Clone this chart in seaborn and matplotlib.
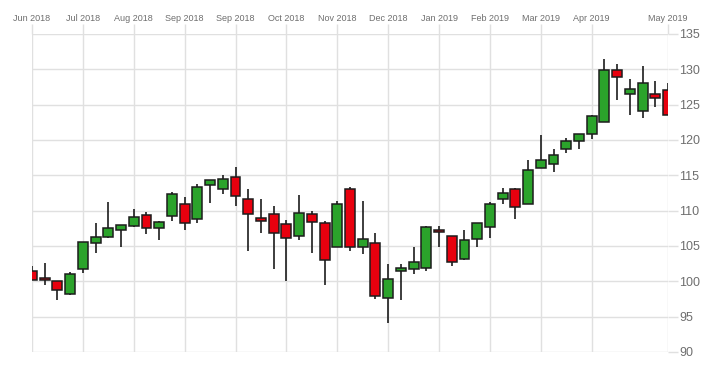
"""
Weekly candlestick chart, Jun 2018 - May 2019.
"""

import matplotlib
matplotlib.use("Agg")
import matplotlib.pyplot as plt
import seaborn as sns
import numpy as np

# Weekly OHLC values
opens = [101.4, 100.4, 100.0, 98.2, 101.7, 105.4, 106.3, 107.2, 107.8, 109.4,
         107.5, 109.2, 110.9, 108.8, 113.7, 113.0, 114.7, 111.6, 108.9, 109.5,
         108.1, 106.4, 109.5, 108.3, 104.8, 113.1, 104.8, 105.4, 97.6, 101.4,
         101.8, 101.9, 107.2, 106.4, 103.1, 106.0, 107.7, 111.7, 113.1, 111.0,
         116.1, 116.6, 118.7, 119.8, 120.9, 122.5, 129.9, 126.5, 124.1, 126.5,
         127.1]
highs = [102.1, 102.6, 100.0, 101.3, 105.6, 108.2, 111.2, 108.0, 110.2, 109.8,
         108.5, 112.7, 112.0, 113.8, 114.3, 115.0, 116.2, 113.1, 111.7, 110.6,
         108.7, 112.2, 110.0, 108.5, 111.3, 113.4, 111.3, 106.8, 102.4, 102.4,
         104.9, 107.8, 107.8, 106.4, 107.3, 108.2, 111.2, 113.2, 113.2, 117.2,
         120.7, 118.7, 120.3, 120.9, 123.5, 131.4, 130.7, 128.6, 130.5, 128.3,
         128.0]
lows = [100.2, 99.5, 97.4, 98.1, 101.2, 104.0, 106.2, 104.8, 107.7, 106.7,
        105.9, 108.6, 107.3, 108.3, 111.1, 112.3, 110.7, 104.3, 106.9, 101.7,
        100.1, 105.9, 104.0, 99.5, 104.8, 104.3, 103.9, 97.5, 94.1, 97.3,
        101.0, 101.4, 104.9, 102.2, 103.0, 104.9, 106.2, 110.9, 108.8, 111.0,
        116.1, 115.5, 118.1, 118.7, 120.1, 122.5, 125.6, 123.5, 123.1, 124.7,
        123.5]
closes = [100.2, 100.2, 98.8, 101.1, 105.5, 106.3, 107.6, 108.0, 109.1, 107.6,
          108.4, 112.4, 108.3, 113.4, 114.3, 114.5, 112.1, 109.5, 108.5, 106.9,
          106.2, 109.6, 108.4, 103.0, 110.9, 104.8, 106.0, 97.9, 100.4, 101.9,
          102.8, 107.7, 107.0, 102.7, 105.8, 108.2, 110.9, 112.5, 110.5, 115.7,
          117.1, 117.9, 119.9, 120.9, 123.4, 129.9, 128.9, 127.2, 128.1, 126.0,
          123.5]

tick_positions = [0, 4, 8, 12, 16, 20, 24, 28, 32, 36, 40, 44, 50]
tick_labels = ["Jun 2018", "Jul 2018", "Aug 2018", "Sep 2018", "Sep 2018",
               "Oct 2018", "Nov 2018", "Dec 2018", "Jan 2019", "Feb 2019",
               "Mar 2019", "Apr 2019", "May 2019"]
y_ticks = [90, 95, 100, 105, 110, 115, 120, 125, 130, 135]

UP_COLOR = "#2ba32b"
DOWN_COLOR = "#e8000e"
EDGE_COLOR = "#1c1c1c"
GRID_COLOR = "#e0e0e0"
TEXT_COLOR = "#6e6e6e"

sns.set_style("white")
plt.rcParams['font.family'] = ['Liberation Sans', 'DejaVu Sans']

fig = plt.figure(figsize=(7.11, 3.70), dpi=100)
ax = fig.add_axes([32 / 711, 1 - 352 / 370, (668 - 32) / 711, (352 - 34) / 370])

x = np.arange(len(opens))
o = np.array(opens)
c = np.array(closes)
colors = [UP_COLOR if cc >= oo else DOWN_COLOR for oo, cc in zip(o, c)]

# Wicks
ax.vlines(x, lows, highs, color=EDGE_COLOR, linewidth=1.2, zorder=2)

# Bodies
bottoms = np.minimum(o, c)
heights = np.maximum(np.abs(c - o), 0.25)
ax.bar(x, heights, bottom=bottoms, width=0.78, color=colors,
       edgecolor=EDGE_COLOR, linewidth=1.1, zorder=3)

# Axes styling
ax.set_xlim(0, 50)
ax.set_ylim(90, 135)
ax.set_xticks(tick_positions)
ax.set_xticklabels(tick_labels)
ax.set_yticks(y_ticks)
ax.xaxis.tick_top()
ax.yaxis.tick_right()
ax.tick_params(axis='x', colors=GRID_COLOR, labelcolor=TEXT_COLOR,
               labelsize=6.5, length=7, width=1, pad=1)
ax.tick_params(axis='y', colors=GRID_COLOR, labelcolor=TEXT_COLOR,
               labelsize=9, length=7, width=1, pad=1)
ax.grid(True, color=GRID_COLOR, linewidth=1, zorder=0)
ax.set_axisbelow(True)
for spine in ax.spines.values():
    spine.set_visible(False)

plt.savefig("out.png", dpi=100)
